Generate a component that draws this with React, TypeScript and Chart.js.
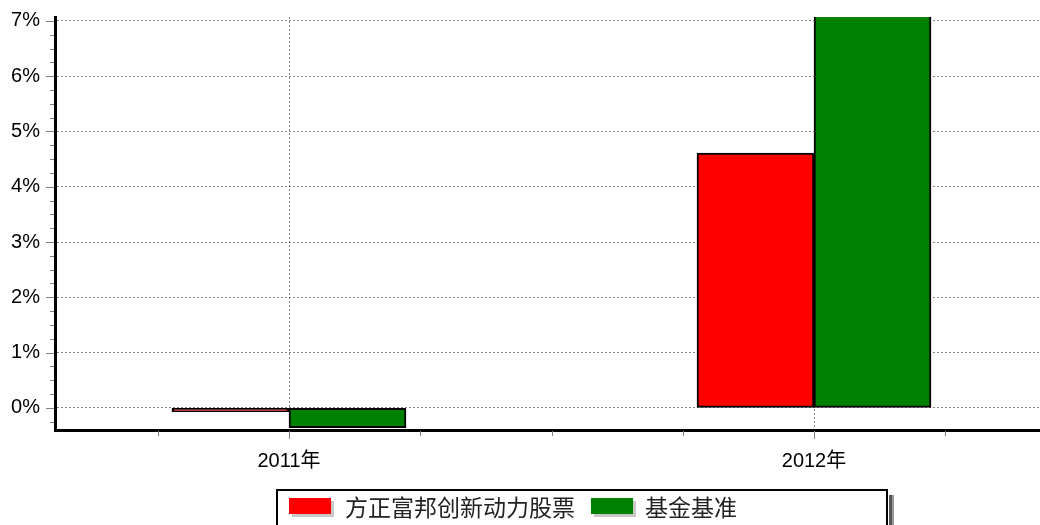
import React, { useEffect, useRef } from "react";
import { Chart, registerables } from "chart.js";

Chart.register(...registerables);

const categories = ["2011年", "2012年"];
const categoryYears = [2011, 2012];
const fundValues = [-0.07, 4.61];
const benchmarkValues = [-0.36, 7.5];
const seriesNames = ["方正富邦创新动力股票", "基金基准"];
const seriesColors = ["#ff0000", "#008000"];
const yTickValues = [
  -0.25, 0, 0.25, 0.5, 0.75, 1, 1.25, 1.5, 1.75, 2, 2.25, 2.5, 2.75, 3, 3.25, 3.5, 3.75, 4,
  4.25, 4.5, 4.75, 5, 5.25, 5.5, 5.75, 6, 6.25, 6.5, 6.75, 7,
];
const xTickValues = [2010.75, 2011, 2011.25, 2011.5, 2011.75, 2012, 2012.25];

const FONT = '"Liberation Sans", Arial, "Noto Sans CJK SC", sans-serif';
const GRID = "#888";

const drawPlugin = {
  id: "customDraw",
  afterDraw(chart: any) {
    const { ctx, chartArea, scales } = chart;
    const x = scales.x;
    const y = scales.y;
    ctx.save();
    ctx.strokeStyle = "#808080";
    ctx.lineWidth = 1;
    yTickValues.forEach((v) => {
      const py = Math.round(y.getPixelForValue(v)) + 0.5;
      const major = Number.isInteger(v);
      ctx.beginPath();
      ctx.moveTo(chartArea.left - (major ? 9 : 5), py);
      ctx.lineTo(chartArea.left - 1, py);
      ctx.stroke();
    });
    xTickValues.forEach((v) => {
      const px = Math.round(x.getPixelForValue(v)) + 0.5;
      const major = Number.isInteger(v);
      ctx.beginPath();
      ctx.moveTo(px, chartArea.bottom + 1);
      ctx.lineTo(px, chartArea.bottom + (major ? 9 : 6));
      ctx.stroke();
    });

    // legend
    const bx = 276, by = 489, bw = 612, bh = 40;
    ctx.fillStyle = "#555";
    ctx.fillRect(bx + bw + 1, by + 6, 3, bh);
    ctx.fillStyle = "#999";
    ctx.fillRect(bx + bw + 4, by + 6, 2, bh);
    ctx.fillStyle = "#fff";
    ctx.fillRect(bx, by, bw, bh);
    ctx.strokeStyle = "#000";
    ctx.lineWidth = 2;
    ctx.strokeRect(bx + 1, by + 1, bw - 2, bh);

    const items = [
      { sx: 289, tx: 345 },
      { sx: 591, tx: 645 },
    ];
    ctx.font = '23px "Noto Sans CJK SC", sans-serif';
    ctx.textBaseline = "middle";
    ctx.textAlign = "left";
    items.forEach((it, i) => {
      ctx.fillStyle = "#c8c8c8";
      ctx.fillRect(it.sx + 3, 501, 42, 16);
      ctx.fillStyle = seriesColors[i];
      ctx.fillRect(it.sx, 498, 42, 16);
      ctx.fillStyle = "#222";
      ctx.fillText(seriesNames[i], it.tx, 507);
    });
    ctx.restore();
  },
};

export default function App() {
  const ref = useRef<HTMLCanvasElement | null>(null);
  useEffect(() => {
    if (!ref.current) return;
    const chart = new Chart(ref.current, {
      type: "bar",
      data: {
        datasets: [
          {
            label: seriesNames[0],
            data: categoryYears.map((yr, i) => ({ x: yr, y: fundValues[i] })),
            backgroundColor: seriesColors[0],
            borderColor: "#000",
            borderWidth: 2,
            borderSkipped: false,
            barThickness: 117,
          },
          {
            label: seriesNames[1],
            data: categoryYears.map((yr, i) => ({ x: yr, y: benchmarkValues[i] })),
            backgroundColor: seriesColors[1],
            borderColor: "#000",
            borderWidth: 2,
            borderSkipped: false,
            barThickness: 117,
          },
        ],
      },
      options: {
        animation: false,
        responsive: true,
        maintainAspectRatio: false,
        layout: { padding: { top: 17, right: 0, left: 0, bottom: 0 } },
        plugins: { legend: { display: false }, tooltip: { enabled: false } },
        scales: {
          x: {
            type: "linear",
            offset: false,
            min: 2011 - 234 / 525,
            max: 2012 + 226 / 525,
            afterBuildTicks: (s: any) => {
              s.ticks = xTickValues.map((v) => ({ value: v }));
            },
            afterFit: (s: any) => {
              s.height = 95;
              s.paddingLeft = 0;
              s.paddingRight = 0;
            },
            grid: {
              offset: false,
              drawTicks: false,
              color: (c: any) => (Number.isInteger(c.tick?.value) ? GRID : "rgba(0,0,0,0)"),
              lineWidth: (c: any) => (Number.isInteger(c.tick?.value) ? 1 : 0),
            },
            border: { display: true, color: "#000", width: 3, dash: [2, 2], z: 1 },
            ticks: {
              autoSkip: false,
              maxRotation: 0,
              padding: 19,
              color: "#000",
              font: { family: FONT, size: 20 },
              callback: (v: any) => {
                const idx = categoryYears.indexOf(Number(v));
                return idx >= 0 ? categories[idx] : "";
              },
            },
          },
          y: {
            min: -0.4,
            max: 7.07,
            afterBuildTicks: (s: any) => {
              s.ticks = yTickValues.map((v) => ({ value: v }));
            },
            afterFit: (s: any) => {
              s.width = 55;
              s.paddingTop = 0;
              s.paddingBottom = 0;
            },
            grid: {
              drawTicks: false,
              color: (c: any) => (Number.isInteger(c.tick?.value) ? GRID : "rgba(0,0,0,0)"),
              lineWidth: (c: any) => (Number.isInteger(c.tick?.value) ? 1 : 0),
            },
            border: { display: true, color: "#000", width: 3, dash: [2, 2], z: 1 },
            ticks: {
              autoSkip: false,
              padding: 15,
              color: "#000",
              font: { family: FONT, size: 20 },
              callback: (v: any) => (Number.isInteger(Number(v)) ? `${v}%` : ""),
            },
          },
        },
      },
      plugins: [drawPlugin],
    });
    return () => chart.destroy();
  }, []);
  return (
    <div style={{ position: "absolute", left: 0, top: 0, width: 1040, height: 525, background: "#fff" }}>
      <canvas ref={ref} />
    </div>
  );
}
